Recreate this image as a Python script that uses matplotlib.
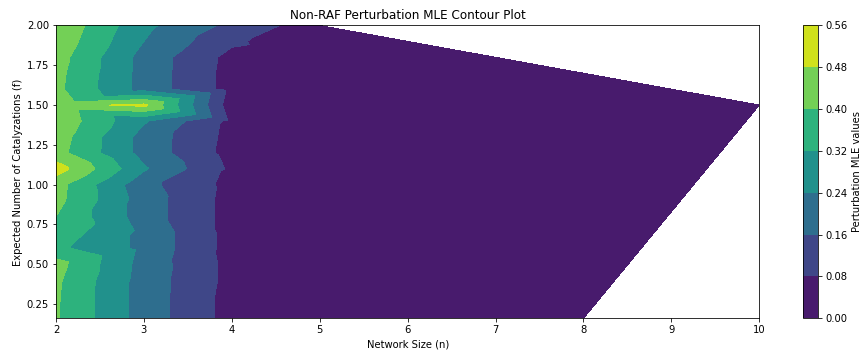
import numpy as np
import matplotlib
matplotlib.use("Agg")
import matplotlib.pyplot as plt

# Expected number of catalyzations (f) sampled for each network size
f_values = [0.16, 0.2, 0.3, 0.4, 0.5, 0.6, 0.7, 0.8, 0.9, 1.0,
            1.1, 1.2, 1.3, 1.4, 1.5, 1.6, 1.7, 1.8, 1.9, 2.0]

# Perturbation MLE per network size (n), one value per f row
mle_n2 = [0.408, 0.408, 0.41, 0.415, 0.43, 0.34, 0.37, 0.40, 0.425, 0.43,
          0.52, 0.43, 0.44, 0.46, 0.45, 0.42, 0.425, 0.435, 0.455, 0.47]
mle_n3 = [0.205, 0.205, 0.205, 0.205, 0.21, 0.22, 0.22, 0.20, 0.20, 0.185,
          0.25, 0.21, 0.21, 0.25, 0.50, 0.21, 0.21, 0.21, 0.24, 0.26]
mle_n4 = [0.05, 0.05, 0.05, 0.055, 0.055, 0.05, 0.05, 0.05, 0.05, 0.055,
          0.065, 0.05, 0.055, 0.06, 0.03, 0.05, 0.05, 0.055, 0.095, 0.14]
mle_n5 = [0.02, 0.02, 0.02, 0.02, 0.02, 0.02, 0.02, 0.02, 0.02, 0.02,
          0.02, 0.02, 0.02, 0.02, 0.01, 0.02, 0.02, 0.02, 0.01, 0.03]
mle_n6 = [0.01, 0.01, 0.01, 0.01, 0.01, 0.01, 0.01, 0.01, 0.01, 0.01,
          0.01, 0.01, 0.01, 0.01, 0.01, 0.01, 0.01, 0.01, 0.01]
mle_n7 = [0.01, 0.01, 0.01, 0.01, 0.01, 0.01, 0.01, 0.01, 0.01, 0.01,
          0.01, 0.01, 0.01, 0.01, 0.01, 0.01, 0.01, 0.01]
mle_n8 = [0.01, 0.01, 0.01, 0.01, 0.01, 0.01, 0.01, 0.01, 0.01, 0.01,
          0.01, 0.01, 0.01, 0.01, 0.01, 0.01, 0.01]
# n = 9 only has runs for f >= 0.9, n = 10 only for f = 1.5
f_n9 = [0.9, 1.0, 1.1, 1.2, 1.3, 1.4, 1.5, 1.6]
mle_n9 = [0.01, 0.01, 0.01, 0.01, 0.01, 0.01, 0.01, 0.01]
f_n10 = [1.5]
mle_n10 = [0.01]

# Build the scattered (n, f, value) table
columns = [
    (2, f_values, mle_n2),
    (3, f_values, mle_n3),
    (4, f_values, mle_n4),
    (5, f_values, mle_n5),
    (6, f_values[:len(mle_n6)], mle_n6),
    (7, f_values[:len(mle_n7)], mle_n7),
    (8, f_values[:len(mle_n8)], mle_n8),
    (9, f_n9, mle_n9),
    (10, f_n10, mle_n10),
]
n_pts, f_pts, z_pts = [], [], []
for n, fs, vals in columns:
    for f, v in zip(fs, vals):
        n_pts.append(n)
        f_pts.append(f)
        z_pts.append(v)
n_pts = np.array(n_pts, dtype=float)
f_pts = np.array(f_pts, dtype=float)
z_pts = np.array(z_pts, dtype=float)

fig = plt.figure(figsize=(861 / 72, 354 / 72), dpi=72)
ax = fig.add_axes([0.065, 0.1008, 0.8169, 0.8272])
cax = fig.add_axes([0.933, 0.1008, 0.0174, 0.8272])

levels = np.linspace(0, 0.56, 8)
cs = ax.tricontourf(n_pts, f_pts, z_pts, levels=levels, cmap="viridis")

ax.set_xlabel("Network Size (n)")
ax.set_ylabel("Expected Number of Catalyzations (f)")
ax.set_title("Non-RAF Perturbation MLE Contour Plot")

cbar = fig.colorbar(cs, cax=cax)
cbar.set_label("Perturbation MLE values")

plt.savefig("out.png", dpi=72)
